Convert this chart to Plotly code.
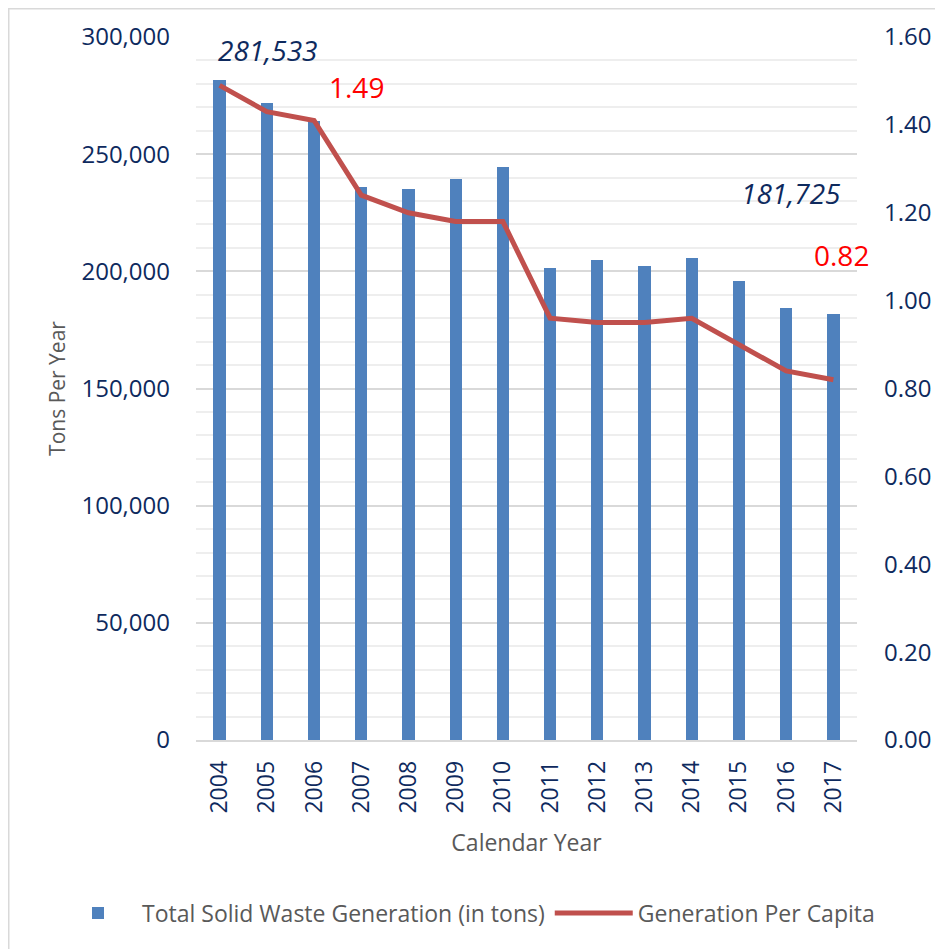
import plotly.graph_objects as go

years = ["2004", "2005", "2006", "2007", "2008", "2009", "2010",
         "2011", "2012", "2013", "2014", "2015", "2016", "2017"]
total_tons = [281533, 272000, 264300, 236100, 235100, 239400, 244700,
              201300, 204700, 202200, 205600, 196000, 184200, 181725]
per_capita = [1.49, 1.43, 1.41, 1.24, 1.20, 1.18, 1.18,
              0.96, 0.95, 0.95, 0.96, 0.90, 0.84, 0.82]

left_ticks = [0, 50000, 100000, 150000, 200000, 250000, 300000]
right_ticks = [0, 0.2, 0.4, 0.6, 0.8, 1.0, 1.2, 1.4, 1.6]

NAVY = "#0E2A5E"
GRAY = "#595959"
FONT = "Open Sans"

# page body has an 8px margin, so the figure is drawn 8px smaller and offset
OFF = 8
W, H = 943 - OFF, 949 - OFF
L, R, T, B = 196 - OFF, 857 - OFF, 37 - OFF, 740 - OFF
PW, PH = R - L, B - T
def px(xp):
    return (xp - L) / PW
def py(yp):
    return (B - yp) / PH

fig = go.Figure()
fig.add_trace(go.Bar(
    x=years, y=total_tons, name="Total Solid Waste Generation (in tons)",
    marker=dict(color="#4F81BD", line=dict(width=0)), width=0.26,
))
fig.add_trace(go.Scatter(
    x=years, y=per_capita, name="Generation Per Capita", yaxis="y2",
    mode="lines", line=dict(color="#C0504D", width=5),
))

ann_font_navy = dict(family=FONT, size=28, color=NAVY)
ann_font_red = dict(family=FONT, size=28, color="#FF0000")
# label positions given as category index (0 = 2004)
fig.add_annotation(x=0, y=294500, text="<i>281,533</i>", showarrow=False,
                   xshift=48, font=ann_font_navy)
fig.add_annotation(x=3, y=1.486, yref="y2", text="1.49", showarrow=False,
                   xshift=-5, font=ann_font_red)
fig.add_annotation(x=12, y=233400, text="<i>181,725</i>", showarrow=False,
                   xshift=5, font=ann_font_navy)
fig.add_annotation(x=13, y=1.104, yref="y2", text="0.82", showarrow=False,
                   xshift=8, font=ann_font_red)

fig.add_shape(type="line", xref="paper", yref="paper",
              x0=px(0), x1=px(0), y0=py(0), y1=py(H + 20),
              line=dict(color="#D9D9D9", width=3))
fig.add_shape(type="line", xref="paper", yref="paper",
              x0=px(0), x1=px(W + 20), y0=py(0), y1=py(0),
              line=dict(color="#D9D9D9", width=3))

fig.update_layout(
    width=W, height=H,
    margin=dict(l=L, r=W - R, t=T, b=H - B, autoexpand=False),
    plot_bgcolor="white", paper_bgcolor="white",
    font=dict(family=FONT, color=GRAY),
    showlegend=True,
    legend=dict(orientation="h", x=px(46), xanchor="left", y=py(905), yanchor="middle",
                font=dict(family=FONT, size=23, color=GRAY),
                traceorder="normal", itemwidth=78),
    xaxis=dict(
        type="category", range=[-0.5, 13.5], automargin=False,
        tickangle=-90, tickfont=dict(family=FONT, size=23, color=NAVY),
        showline=True, linecolor="#D9D9D9", linewidth=1.5, ticks="",
        title=dict(text="Calendar Year", font=dict(family=FONT, size=23, color=GRAY), standoff=22),
        ticklabelstandoff=10,
    ),
    yaxis=dict(
        range=[0, 300000], tickvals=left_ticks, tickformat=",d", automargin=False,
        tickfont=dict(family=FONT, size=24, color=NAVY),
        showgrid=True, gridcolor="#D9D9D9", gridwidth=1.5, zeroline=False,
        minor=dict(dtick=10000, showgrid=True, gridcolor="#EEEEEE", gridwidth=1.5),
        ticks="", ticklabelstandoff=25,
        title=dict(text="Tons Per Year", font=dict(family=FONT, size=21, color=GRAY), standoff=10),
    ),
    yaxis2=dict(
        range=[0, 1.6], tickvals=right_ticks, tickformat=".2f", overlaying="y", side="right",
        automargin=False,
        tickfont=dict(family=FONT, size=24, color=NAVY), showgrid=False, zeroline=False,
        ticks="", ticklabelstandoff=26,
    ),
    bargap=0.0,
)

fig.write_html("out.html")
